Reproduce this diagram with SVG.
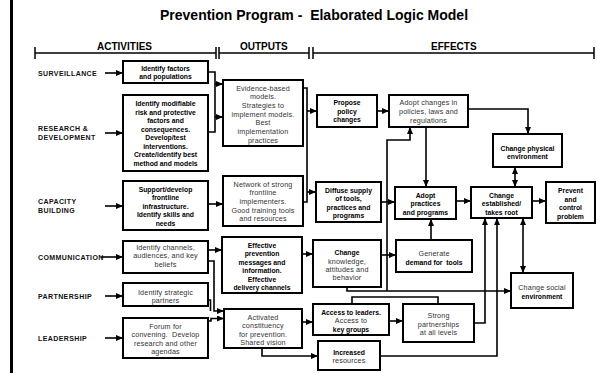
<svg xmlns="http://www.w3.org/2000/svg" width="597" height="373" viewBox="0 0 597 373">
  <style>
    text { white-space: pre; }
    .box { fill: #fff; stroke: #000; stroke-width: 2; }
    .b { font-family: "Liberation Sans", Arial, sans-serif; font-size: 6.8px; font-weight: bold; text-anchor: middle; fill: #000; }
    .r { font-family: "Liberation Sans", Arial, sans-serif; font-size: 7.2px; text-anchor: middle; fill: #333; letter-spacing: 0.15px; }
    .lbl { font-family: "Liberation Sans", Arial, sans-serif; font-size: 7px; font-weight: bold; letter-spacing: 0.4px; fill: #111; }
    .hd { font-family: "Liberation Sans", Arial, sans-serif; font-size: 10px; font-weight: bold; fill: #000; }
    .title { font-family: "Liberation Sans", Arial, sans-serif; font-size: 14px; font-weight: bold; fill: #000; }
    .c { fill: none; stroke: #000; stroke-width: 1.6; }
    .a { marker-end: url(#arr); }
    .aa { marker-start: url(#arr); marker-end: url(#arr); }
    .rule { fill: none; stroke: #000; stroke-width: 1.5; }
  </style>
  <defs>
    <marker id="arr" markerUnits="userSpaceOnUse" markerWidth="7" markerHeight="6" refX="7" refY="3" orient="auto-start-reverse">
      <path d="M0,0 L7,3 L0,6 z" fill="#000"/>
    </marker>
  </defs>

  <rect width="597" height="373" fill="#fff"/>
  <rect x="10" y="0" width="3" height="373" fill="#000"/>

  <text class="title" x="160" y="20">Prevention Program -  Elaborated Logic Model</text>

  <!-- column headers -->
  <g id="headers">
    <path class="rule" d="M35,53 H216 M35,47 V59 M216,47 V59 M219,53 H309 M219,47 V59 M309,47 V59 M313,53 H594 M313,47 V59 M594,47 V59"/>
    <text class="hd" x="97" y="50">ACTIVITIES</text>
    <text class="hd" x="240" y="50">OUTPUTS</text>
    <text class="hd" x="431" y="50">EFFECTS</text>
  </g>

  <!-- row labels -->
  <g id="labels">
    <text class="lbl" x="38" y="75.5">SURVEILLANCE</text>
    <text class="lbl" x="38" y="131">RESEARCH &amp;</text>
    <text class="lbl" x="38" y="139.5">DEVELOPMENT</text>
    <text class="lbl" x="38" y="203.5">CAPACITY</text>
    <text class="lbl" x="38" y="212.5">BUILDING</text>
    <text class="lbl" x="38" y="259.5">COMMUNICATION</text>
    <text class="lbl" x="38" y="298.5">PARTNERSHIP</text>
    <text class="lbl" x="38" y="340.5">LEADERSHIP</text>
  </g>

  <!-- connectors -->
  <g id="connectors">
    <path class="c a" d="M105,73 H123"/>
    <path class="c a" d="M105,133 H123"/>
    <path class="c a" d="M105,206 H123"/>
    <path class="c a" d="M101,257 H123"/>
    <path class="c a" d="M105,296 H123"/>
    <path class="c a" d="M105,338 H123"/>

    <path class="c" d="M208,72 H215 V132 H208"/>
    <path class="c a" d="M215,84 H223"/>
    <path class="c a" d="M215,117 H223"/>
    <path class="c a" d="M208,204 H223"/>
    <path class="c a" d="M208,250 H222"/>
    <path class="c a" d="M208,261 H214 V311 H224"/>
    <path class="c" d="M208,300 H210.5 V311"/>
    <path class="c a" d="M208,321 H211 V318.5 H224"/>

    <path class="c" d="M303,88 H307 V202 H303"/>
    <path class="c a" d="M307,111 H317"/>
    <path class="c a" d="M307,192 H316"/>
    <path class="c a" d="M377,111 H389"/>
    <path class="c a" d="M468,109 H528 V134"/>
    <path class="c a" d="M426,127 V187"/>
    <path class="c a" d="M387,291 V140 H410 V127"/>
    <path class="c a" d="M381,202 H395"/>
    <path class="c a" d="M456,201 H471"/>
    <path class="c a" d="M532,201 H546"/>
    <path class="c aa" d="M515,167 V187"/>
    <path class="c aa" d="M523,218 V273"/>
    <path class="c a" d="M302,254 H313"/>
    <path class="c a" d="M381,255 H396"/>
    <path class="c a" d="M431,240 V219"/>
    <path class="c a" d="M347,287 V291 H511"/>
    <path class="c a" d="M302,322 H313"/>
    <path class="c a" d="M262,348 V356 H318"/>
    <path class="c a" d="M389,321 H403"/>
    <path class="c" d="M352,304 V297 H438 V304"/>
    <path class="c a" d="M474,323 H485 V218"/>
    <path class="c a" d="M380,356 H497 V218"/>
  </g>

  <!-- activities -->
  <g id="act-surveillance">
    <rect class="box" x="123" y="61" width="85" height="22"/>
    <text class="b" x="165.5" y="70.5">Identify factors</text>
    <text class="b" x="165.5" y="79">and populations</text>
  </g>
  <g id="act-research">
    <rect class="box" x="123" y="95" width="85" height="76"/>
    <text class="b" x="165.5" y="106">Identify modifiable</text>
    <text class="b" x="165.5" y="114.5">risk and protective</text>
    <text class="b" x="165.5" y="123">factors and</text>
    <text class="b" x="165.5" y="131.5">consequences.</text>
    <text class="b" x="165.5" y="140">Develop/test</text>
    <text class="b" x="165.5" y="148.5">interventions.</text>
    <text class="b" x="165.5" y="157">Create/identify best</text>
    <text class="b" x="165.5" y="165.5">method and models</text>
  </g>
  <g id="act-capacity">
    <rect class="box" x="123" y="181" width="85" height="49"/>
    <text class="b" x="165.5" y="191.5">Support/develop</text>
    <text class="b" x="165.5" y="200">frontline</text>
    <text class="b" x="165.5" y="208.5">infrastructure.</text>
    <text class="b" x="165.5" y="217">Identify skills and</text>
    <text class="b" x="165.5" y="225.5">needs</text>
  </g>
  <g id="act-communication">
    <rect class="box" x="123" y="241" width="85" height="32"/>
    <text class="r" x="165.5" y="249.5">Identify channels,</text>
    <text class="r" x="165.5" y="258">audiences, and key</text>
    <text class="r" x="165.5" y="266.5">beliefs</text>
  </g>
  <g id="act-partnership">
    <rect class="box" x="123" y="283" width="85" height="23"/>
    <text class="r" x="165.5" y="294.5">Identify strategic</text>
    <text class="r" x="165.5" y="303">partners</text>
  </g>
  <g id="act-leadership">
    <rect class="box" x="123" y="318" width="85" height="40"/>
    <text class="r" x="165.5" y="328.5">Forum for</text>
    <text class="r" x="165.5" y="337">convening.  Develop</text>
    <text class="r" x="165.5" y="345.5">research and other</text>
    <text class="r" x="165.5" y="354">agendas</text>
  </g>

  <!-- outputs -->
  <g id="out-evidence">
    <rect class="box" x="223" y="80" width="80" height="66"/>
    <text class="r" x="263" y="90.5">Evidence-based</text>
    <text class="r" x="263" y="99.2">models.</text>
    <text class="r" x="263" y="107.9">Strategies to</text>
    <text class="r" x="263" y="116.6">implement models.</text>
    <text class="r" x="263" y="125.3">Best</text>
    <text class="r" x="263" y="134">implementation</text>
    <text class="r" x="263" y="142.7">practices</text>
  </g>
  <g id="out-network">
    <rect class="box" x="223" y="176" width="80" height="50"/>
    <text class="r" x="263" y="186.5">Network of strong</text>
    <text class="r" x="263" y="195.2">frontline</text>
    <text class="r" x="263" y="203.9">implementers.</text>
    <text class="r" x="263" y="212.6">Good training tools</text>
    <text class="r" x="263" y="221.3">and resources</text>
  </g>
  <g id="out-effective">
    <rect class="box" x="222" y="237" width="80" height="56"/>
    <text class="b" x="262" y="247.5">Effective</text>
    <text class="b" x="262" y="256" font-weight="normal">prevention</text>
    <text class="b" x="262" y="264.5">messages and</text>
    <text class="b" x="262" y="273" font-weight="normal">information.</text>
    <text class="b" x="262" y="281.5">Effective</text>
    <text class="b" x="262" y="290">delivery channels</text>
  </g>
  <g id="out-activated">
    <rect class="box" x="224" y="309" width="78" height="39"/>
    <text class="r" x="263" y="319.5">Activated</text>
    <text class="r" x="263" y="328">constituency</text>
    <text class="r" x="263" y="336.5">for prevention.</text>
    <text class="r" x="263" y="345">Shared vision</text>
  </g>

  <!-- effects -->
  <g id="eff-propose">
    <rect class="box" x="317" y="95" width="60" height="32"/>
    <text class="b" x="347" y="105">Propose</text>
    <text class="b" x="347" y="113.5">policy</text>
    <text class="b" x="347" y="122">changes</text>
  </g>
  <g id="eff-adopt-policies">
    <rect class="box" x="389" y="95" width="79" height="32"/>
    <text class="r" x="428.5" y="105">Adopt changes in</text>
    <text class="r" x="428.5" y="113.5">policies, laws and</text>
    <text class="r" x="428.5" y="122.5">regulations</text>
  </g>
  <g id="eff-physical">
    <rect class="box" x="493" y="134" width="69" height="33"/>
    <text class="b" x="527.5" y="150.5">Change physical</text>
    <text class="b" x="527.5" y="158.5">environment</text>
  </g>
  <g id="eff-diffuse">
    <rect class="box" x="316" y="182" width="65" height="40"/>
    <text class="b" x="348.5" y="192.5">Diffuse supply</text>
    <text class="b" x="348.5" y="201">of tools,</text>
    <text class="b" x="348.5" y="209.5">practices and</text>
    <text class="b" x="348.5" y="218" font-weight="normal">programs</text>
  </g>
  <g id="eff-adopt-practices">
    <rect class="box" x="395" y="187" width="61" height="32"/>
    <text class="b" x="425.5" y="197.5">Adopt</text>
    <text class="b" x="425.5" y="206">practices</text>
    <text class="b" x="425.5" y="214.5">and programs</text>
  </g>
  <g id="eff-established">
    <rect class="box" x="471" y="187" width="61" height="31"/>
    <text class="b" x="501.5" y="197.5" font-weight="normal">Change</text>
    <text class="b" x="501.5" y="206">established/</text>
    <text class="b" x="501.5" y="214.5" font-weight="normal">takes root</text>
  </g>
  <g id="eff-prevent">
    <rect class="box" x="546" y="182" width="49" height="41"/>
    <text class="b" x="570.5" y="192.5">Prevent</text>
    <text class="b" x="570.5" y="201.5" font-weight="normal">and</text>
    <text class="b" x="570.5" y="210">control</text>
    <text class="b" x="570.5" y="218.5">problem</text>
  </g>
  <g id="eff-knowledge">
    <rect class="box" x="313" y="240" width="68" height="47"/>
    <text class="b" x="347" y="254.5">Change</text>
    <text class="r" x="347" y="263.5">knowledge,</text>
    <text class="r" x="347" y="271.5">attitudes and</text>
    <text class="r" x="347" y="280">behavior</text>
  </g>
  <g id="eff-generate">
    <rect class="box" x="396" y="240" width="76" height="32"/>
    <text class="r" x="434" y="255.5">Generate</text>
    <text class="b" x="434" y="264.5">demand for  tools</text>
  </g>
  <g id="eff-social">
    <rect class="box" x="511" y="273" width="62" height="35"/>
    <text class="r" x="542" y="289.5">Change social</text>
    <text class="b" x="542" y="298.5">environment</text>
  </g>
  <g id="eff-access">
    <rect class="box" x="313" y="304" width="76" height="31"/>
    <text class="b" x="351" y="314.5">Access to leaders.</text>
    <text class="r" x="351" y="323">Access to</text>
    <text class="b" x="351" y="331.5">key groups</text>
  </g>
  <g id="eff-strong">
    <rect class="box" x="403" y="304" width="71" height="38"/>
    <text class="r" x="438.5" y="317.5">Strong</text>
    <text class="r" x="438.5" y="326.5">partnerships</text>
    <text class="r" x="438.5" y="334.5">at all levels</text>
  </g>
  <g id="eff-resources">
    <rect class="box" x="318" y="341" width="62" height="29"/>
    <text class="b" x="349" y="354.5">Increased</text>
    <text class="r" x="349" y="363">resources</text>
  </g>
</svg>
